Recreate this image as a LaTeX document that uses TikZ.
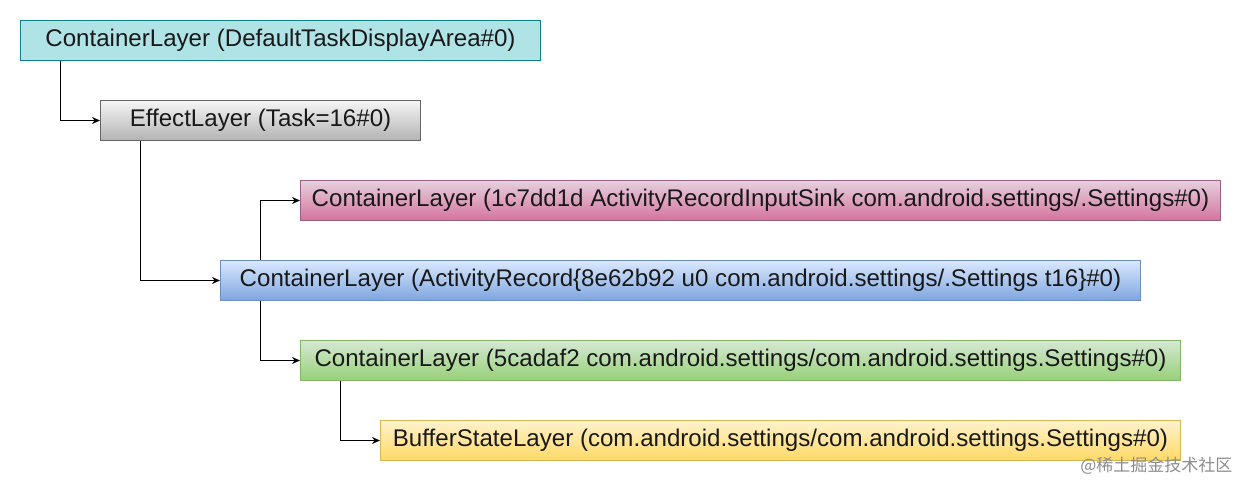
\documentclass[tikz,border=0pt]{standalone}
\usepackage{fontspec}
\setmainfont{Liberation Sans}
\newfontfamily\cjkfont{Noto Sans CJK SC}
\usetikzlibrary{
	positioning,
	arrows.meta
}
\definecolor{tealfill}{HTML}{B0E3E6}
\definecolor{tealline}{HTML}{0E8088}
\definecolor{greytop}{HTML}{F5F5F5}
\definecolor{greybot}{HTML}{B3B3B3}
\definecolor{greyline}{HTML}{666666}
\definecolor{pinktop}{HTML}{E6D0DE}
\definecolor{pinkbot}{HTML}{D5739D}
\definecolor{pinkline}{HTML}{996185}
\definecolor{bluetop}{HTML}{DAE8FC}
\definecolor{bluebot}{HTML}{7EA6E0}
\definecolor{blueline}{HTML}{6C8EBF}
\definecolor{greentop}{HTML}{D5E8D4}
\definecolor{greenbot}{HTML}{97D077}
\definecolor{greenline}{HTML}{82B366}
\definecolor{yellowtop}{HTML}{FFF2CC}
\definecolor{yellowbot}{HTML}{FFD966}
\definecolor{yellowline}{HTML}{D6B656}
\tikzset{
	layer/.style n args={3}{
		draw=#3,
		top color=#1,
		bottom color=#2,
		line width=1pt,
		anchor=north west,
		inner sep=0pt,
		minimum height=40pt,
		text=black!90,
		font=\fontsize{24.1}{28}\selectfont
	},
	link/.style={
		-{Stealth[length=8pt,width=7pt]},
		line width=1pt,
		to path={|- (\tikztotarget)}
	}
}

\begin{document}
\begin{tikzpicture}[x=1pt,y=-1pt]
		\useasboundingbox (0,0) rectangle (1241,481);
		\draw
			node[layer={tealfill}{tealfill}{tealline},minimum width=520pt]     (area)     at (20,20)  {ContainerLayer (DefaultTaskDisplayArea\#0)}
			node[layer={greytop}{greybot}{greyline},minimum width=320pt]      (task)     at (100,100) {EffectLayer (Task=16\#0)}
			node[layer={pinktop}{pinkbot}{pinkline},minimum width=920pt]      (sink)     at (300,180) {ContainerLayer (1c7dd1d ActivityRecordInputSink com.android.settings/.Settings\#0)}
			node[layer={bluetop}{bluebot}{blueline},minimum width=920pt]      (record)   at (220,260) {ContainerLayer (ActivityRecord\{8e62b92 u0 com.android.settings/.Settings t16\}\#0)}
			node[layer={greentop}{greenbot}{greenline},minimum width=880pt]   (window)   at (300,340) {ContainerLayer (5cadaf2 com.android.settings/com.android.settings.Settings\#0)}
			node[layer={yellowtop}{yellowbot}{yellowline},minimum width=800pt] (buffer)   at (380,420) {BufferStateLayer (com.android.settings/com.android.settings.Settings\#0)}

			([xshift=40pt]area.south west)    edge[link] (task.west)
			([xshift=40pt]task.south west)    edge[link] (record.west)
			([xshift=40pt]record.north west)  edge[link] (sink.west)
			([xshift=40pt]record.south west)  edge[link] (window.west)
			([xshift=40pt]window.south west)  edge[link] (buffer.west)
		;
		\node[anchor=east,text=black!45,font=\cjkfont\fontsize{17}{20}\selectfont] (mark) at (1236,466) {@稀土掘金技术社区};
	\end{tikzpicture}
\end{document}
